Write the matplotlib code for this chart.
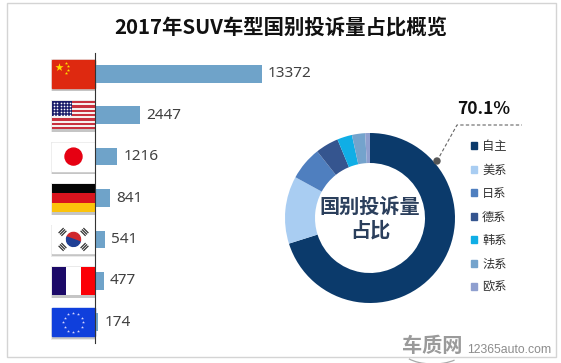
import numpy as np
import matplotlib
matplotlib.use("Agg")
import matplotlib.pyplot as plt
from matplotlib.patches import Rectangle, Circle, Wedge, Arc, Patch

plt.rcParams['font.family'] = ['Noto Sans CJK SC', 'DejaVu Sans']

countries = ["中国", "美国", "日本", "德国", "韩国", "法国", "欧盟"]
complaints = [13372, 2447, 1216, 841, 541, 477, 174]
legend_labels = ["自主", "美系", "日系", "德系", "韩系", "法系", "欧系"]
legend_colors = ["#0b3a6b", "#a9cdf2", "#4f7fbf", "#35558f", "#10aee6", "#74a3cc", "#8f9fcf"]
share_label = "70.1%"
title = "2017年SUV车型国别投诉量占比概览"
center_text = "国别投诉量\n占比"

W, H = 561, 363
# the first bar runs past the end of the axis in the original, so it gets clipped
BAR_XMAX = 9100


def flag_china(ax, x, y, w, h):
    ax.add_patch(Rectangle((x, y), w, h, color="#de2910"))
    ax.scatter([x + 7], [y + 7], marker='*', s=38, color="#ffde00", linewidths=0, zorder=3)
    ax.scatter([x + 14, x + 16.5, x + 16.5, x + 14], [y + 3, y + 6, y + 10, y + 13],
               marker='*', s=6, color="#ffde00", linewidths=0, zorder=3)


def flag_usa(ax, x, y, w, h):
    for i in range(13):
        color = "#c8313e" if i % 2 == 0 else "#f6f0ee"
        ax.add_patch(Rectangle((x, y + i * h / 13), w, h / 13 + 0.2, color=color, lw=0))
    ax.add_patch(Rectangle((x, y), w * 0.47, h * 0.54, color="#1c1f6b", lw=0, zorder=2))
    for row in range(5):
        xs = x + 2 + np.arange(6) * 3.3
        ax.scatter(xs, np.full(6, y + 2 + row * 3), s=1.5, color="white", linewidths=0, zorder=3)


def flag_japan(ax, x, y, w, h):
    ax.add_patch(Rectangle((x, y), w, h, color="white"))
    ax.add_patch(Circle((x + w / 2, y + h / 2), 8.5, color="#e60012", zorder=3))


def flag_germany(ax, x, y, w, h):
    for i, color in enumerate(["#050505", "#d9141e", "#fcc30b"]):
        ax.add_patch(Rectangle((x, y + i * h / 3), w, h / 3 + 0.2, color=color, lw=0))


def flag_korea(ax, x, y, w, h):
    cx, cy = x + w / 2, y + h / 2
    ax.add_patch(Rectangle((x, y), w, h, color="white"))
    ax.add_patch(Wedge((cx, cy), 7, 200, 20, color="#d0282e", zorder=3))
    ax.add_patch(Wedge((cx, cy), 7, 20, 200, color="#1f3f94", zorder=3))
    for dx, dy in [(-1, -1), (1, -1), (-1, 1), (1, 1)]:
        px, py = cx + dx * 11, cy + dy * 7.5
        for k in [-2, 0, 2]:
            ax.plot([px - 2.5 * dy + k * dx * 0.7, px + 2.5 * dy + k * dx * 0.7],
                    [py + 2.5 * dx + k * dy * 0.7, py - 2.5 * dx + k * dy * 0.7],
                    color="#333333", lw=0.9, zorder=3, solid_capstyle='butt')


def flag_france(ax, x, y, w, h):
    for i, color in enumerate(["#1c0a68", "#ffffff", "#fb0006"]):
        ax.add_patch(Rectangle((x + i * w / 3, y), w / 3 + 0.2, h, color=color, lw=0))


def flag_eu(ax, x, y, w, h):
    ax.add_patch(Rectangle((x, y), w, h, color="#0f3fdc"))
    t = np.linspace(0, 2 * np.pi, 12, endpoint=False)
    ax.scatter(x + w / 2 + 10 * np.cos(t), y + h / 2 + 9.5 * np.sin(t),
               marker='*', s=5, color="#d8d8ff", linewidths=0, zorder=3)


fig = plt.figure(figsize=(W / 100, H / 100), dpi=100)

# overlay in pixel coordinates for frame, flags and annotations
bg = fig.add_axes([0, 0, 1, 1])
bg.set_xlim(0, W)
bg.set_ylim(H, 0)
bg.axis('off')
bg.add_patch(Rectangle((7, 3), 549, 354, fill=False, ec="#d4d4d4", lw=1))

# bars
bar_ax = fig.add_axes([95 / W, 1 - 343 / H, 167 / W, 290 / H])
y_pos = np.arange(len(countries))
bar_ax.barh(y_pos, complaints, height=0.43, color="#6fa3c9")
bar_ax.set_xlim(0, BAR_XMAX)
bar_ax.set_ylim(len(countries) - 0.5, -0.5)
bar_ax.patch.set_alpha(0)
for side in ["top", "right", "bottom"]:
    bar_ax.spines[side].set_visible(False)
bar_ax.spines["left"].set_color("#333333")
bar_ax.spines["left"].set_linewidth(0.8)
bar_ax.set_xticks([])
bar_ax.set_yticks([])
for i, v in enumerate(complaints):
    bar_ax.annotate(str(v), (min(v, BAR_XMAX), i), xytext=(6, 0), textcoords='offset pixels',
                    va='center', ha='left', fontsize=11, color="#404040", annotation_clip=False,
                    family='Noto Sans')

# flags
flag_funcs = [flag_china, flag_usa, flag_japan, flag_germany, flag_korea, flag_france, flag_eu]
for i, func in enumerate(flag_funcs):
    top = 53 + 41.43 * (i + 0.5) - 14
    bg.add_patch(Rectangle((52, top + 3), 43, 28, color="#9a9a9a", alpha=0.55, lw=0))
    bg.add_patch(Rectangle((51, top - 0.7), 45, 32, color="#c4c4c4", alpha=0.35, lw=0))
    func(bg, 52, top, 43, 28)

# donut
pie_ax = fig.add_axes([285 / W, 1 - 303 / H, 170 / W, 170 / H])
pie_ax.pie(complaints, colors=legend_colors, startangle=90, counterclock=False, radius=1,
           wedgeprops=dict(width=30 / 85))
pie_ax.set_xlim(-1, 1)
pie_ax.set_ylim(-1, 1)

bg.text(370, 218, center_text, ha='center', va='center', fontsize=14.5, fontweight='bold',
        color="#2b3f5c", linespacing=1.15)

# leader line for the big slice
fig.add_artist(plt.Line2D([437 / W, 457 / W, 522 / W], [1 - 161 / H, 1 - 125 / H, 1 - 125 / H],
                          color="#666666", lw=0.8, ls=(0, (3, 2))))
fig.add_artist(Circle((437, H - 161), 3, color="#555555",
                      transform=matplotlib.transforms.Affine2D().scale(1), zorder=5))
fig.text(484 / W, 1 - 109 / H, share_label, ha='center', va='center', fontsize=12.5,
         fontweight='bold', color="#111111")

# legend
handles = [Patch(color=c, label=l) for c, l in zip(legend_colors, legend_labels)]
fig.legend(handles=handles, loc='center left', bbox_to_anchor=(465 / W, 1 - 217 / H), frameon=False,
           fontsize=8.8, handlelength=0.5, handleheight=0.5, handletextpad=0.4,
           labelspacing=0.86, borderpad=0, labelcolor="#333333")

fig.text(281 / W, 1 - 27 / H, title, ha='center', va='center', fontsize=14.7, fontweight='bold',
         color="#111111")

# watermark
bg.add_patch(Arc((433, 350), 62, 28, theta1=25, theta2=160, ec="#aaaaaa", lw=0.9))
bg.text(432, 346, "车质网", ha='center', va='center', fontsize=14.5, fontweight='bold', color="#9a9a9a")
bg.text(467, 350, "12365auto.com", ha='left', va='center', fontsize=8.8, color="#8c8c8c",
        family='Liberation Sans')

fig.savefig("out.png", dpi=100)
